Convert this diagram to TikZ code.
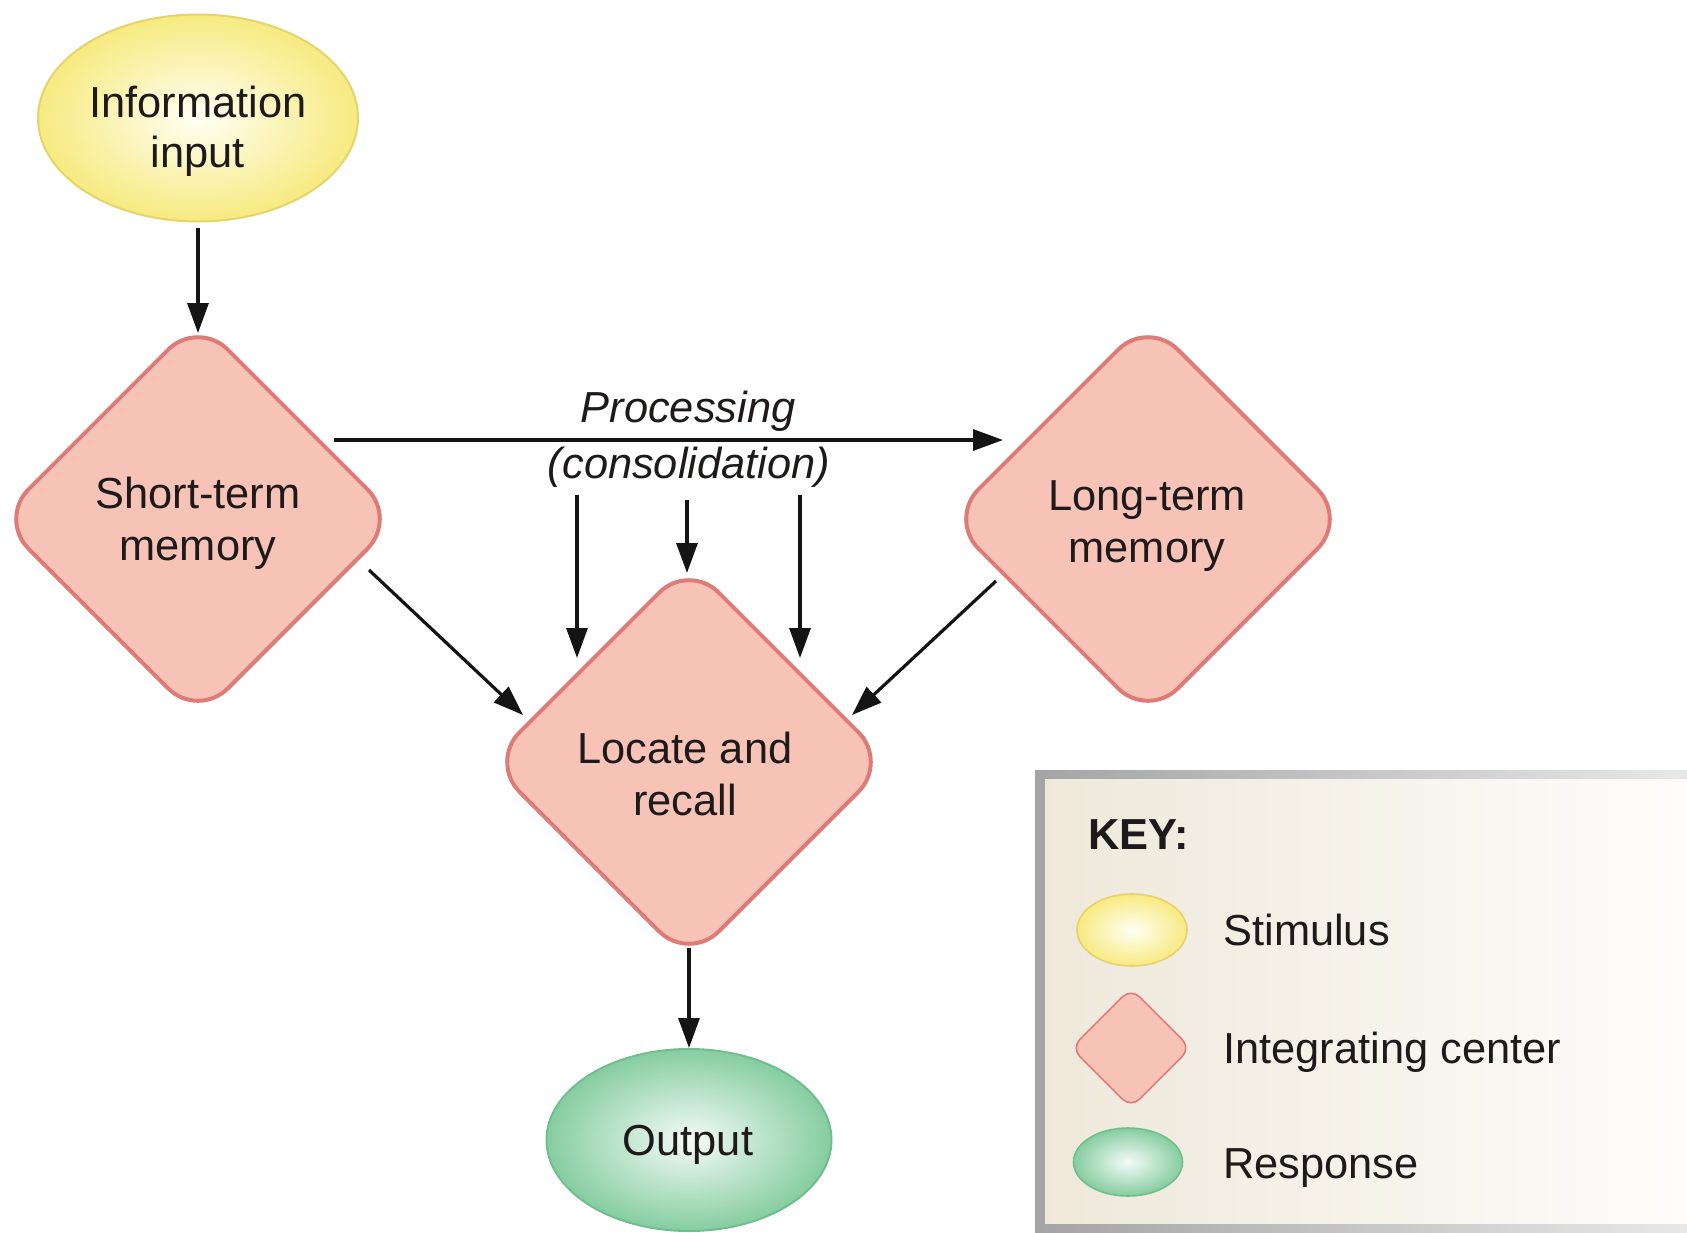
\documentclass[tikz,border=0pt]{standalone}
\usepackage{fontspec}
\setmainfont{Liberation Sans}
\usetikzlibrary{shapes.geometric,arrows.meta,calc}
\definecolor{txt}{HTML}{1E1A1A}
\definecolor{arrc}{HTML}{141414}
\definecolor{dfill}{HTML}{F8C3B7}
\definecolor{ddraw}{HTML}{DF7B76}
\definecolor{yin}{HTML}{FFFFF4}
\definecolor{yout}{HTML}{F7EA80}
\definecolor{ydraw}{HTML}{E6D36B}
\definecolor{gin}{HTML}{F4FBF7}
\definecolor{gout}{HTML}{86CDA0}
\definecolor{gdraw}{HTML}{6FBF8E}
\definecolor{keyl}{HTML}{EEE8DA}
\definecolor{keyr}{HTML}{FEFDFB}
\definecolor{keyb}{HTML}{A4A4A4}
\begin{document}
\begin{tikzpicture}[x=0.5pt,y=-0.5pt,
  every node/.style={text=txt},
  lbl/.style={font=\fontsize{21.7}{26}\selectfont, anchor=base, inner sep=0pt},
  ital/.style={lbl, font=\fontsize{21.7}{26}\selectfont\itshape},
  keylbl/.style={lbl, anchor=base west},
  stim/.style={ellipse, draw=ydraw, line width=1pt, inner color=yin, outer color=yout,
    minimum width=160pt, minimum height=103.5pt, inner sep=0pt},
  integ/.style={diamond, draw=ddraw, fill=dfill, line width=2pt, rounded corners=21pt,
    minimum width=200pt, minimum height=200pt, inner sep=0pt},
  resp/.style={ellipse, draw=gdraw, line width=1pt, inner color=gin, outer color=gout,
    minimum width=142.5pt, minimum height=91pt, inner sep=0pt},
  arr/.style={draw=arrc, line width=1.6pt, -{Triangle[length=15pt,width=10.5pt]}},
]
\useasboundingbox (0,0) rectangle (1687,1232);
\fill[white] (0,0) rectangle (1687,1232);

% ---- key box ----
\shade[left color=keyl, right color=keyr] (1035,770) rectangle (1687,1232);
\shade[left color=keyb, right color=keyb!25] (1035,770) rectangle (1687,778);
\shade[left color=keyb, right color=keyb!25] (1035,1224) rectangle (1687,1232);
\fill[keyb] (1035,770) rectangle (1045,1232);

% ---- main nodes ----
\node[stim] (in) at (198,118) {};
\node[integ] (st) at (198,519) {};
\node[integ] (lt) at (1148,519) {};
\node[integ] (lr) at (689,762) {};
\node[resp] (out) at (689,1140) {};

% ---- texts ----
\node[lbl] (in-a) at (198,117) {Information};
\node[lbl] (in-b) at (198,167) {input};
\node[lbl] (st-a) at (198,508) {Short-term};
\node[lbl] (st-b) at (198,560) {memory};
\node[lbl] (lt-a) at (1147,510) {Long-term};
\node[lbl] (lt-b) at (1147,562) {memory};
\node[lbl] (lr-a) at (685,763) {Locate and};
\node[lbl] (lr-b) at (685,815) {recall};
\node[lbl] (out-a) at (688,1155) {Output};
\node[ital] (proc-a) at (688,422) {Processing};
\node[ital] (proc-b) at (689,478) {(consolidation)};

% ---- connectors ----
\draw[arr, shorten <=2.5pt, shorten >=-8pt] (in.south) -- (st.north);

\coordinate (pa) at ($(st.center)+(136,-79)$);
\coordinate (pb) at ($(lt.center)+(-145,-79)$);
\draw[arr] (pa) -- (pb);

\coordinate (d1s) at ($(lr.center)+(-112,-267)$);
\coordinate (d1e) at ($(lr.center)+(-112,-104)$);
\coordinate (d2s) at ($(lr.center)+(-2,-262)$);
\coordinate (d2e) at ($(lr.center)+(-2,-189)$);
\coordinate (d3s) at ($(lr.center)+(111,-267)$);
\coordinate (d3e) at ($(lr.center)+(111,-104)$);
\draw[arr] (d1s) -- (d1e);
\draw[arr] (d2s) -- (d2e);
\draw[arr] (d3s) -- (d3e);

\coordinate (sl1) at ($(st.center)+(171,51)$);
\coordinate (sl2) at ($(lr.center)+(-166,-47)$);
\draw[arr] (sl1) -- (sl2);
\coordinate (ll1) at ($(lt.center)+(-152,62)$);
\coordinate (ll2) at ($(lr.center)+(163,-47)$);
\draw[arr] (ll1) -- (ll2);

\draw[arr, shorten <=-8pt] (lr.south) -- (out.north);

% ---- key contents ----
\node[keylbl, font=\fontsize{21.7}{26}\selectfont\bfseries] (key) at (1088,849) {KEY:};
\node[stim, minimum width=55pt, minimum height=36pt, line width=0.8pt] (k1) at (1132,930) {};
\node[integ, minimum width=60pt, minimum height=60pt, rounded corners=6pt, line width=0.8pt] (k2) at (1131,1048) {};
\node[resp, minimum width=54.5pt, minimum height=34pt, line width=0.8pt] (k3) at (1128,1162) {};
\node[keylbl] (k1t) at (1223,945) {Stimulus};
\node[keylbl] (k2t) at (1223,1063) {Integrating center};
\node[keylbl] (k3t) at (1223,1178) {Response};
\end{tikzpicture}
\end{document}
